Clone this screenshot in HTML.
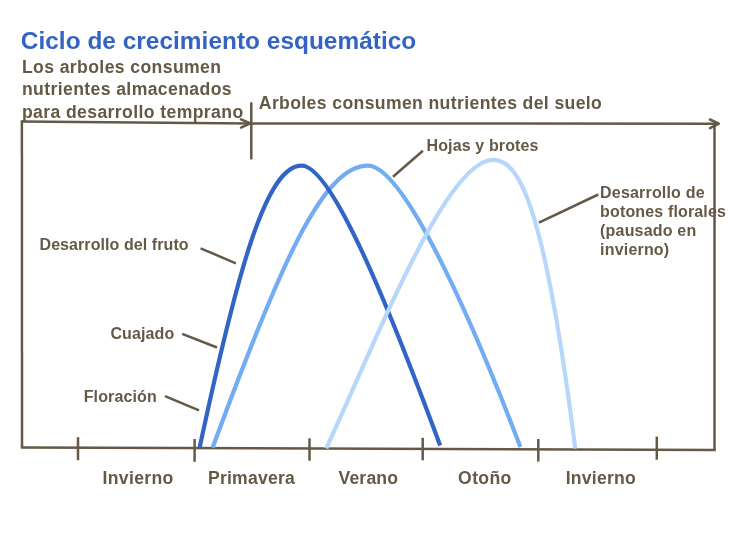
<!DOCTYPE html>
<html><head><meta charset="utf-8">
<style>
html,body{margin:0;padding:0;background:#fff;}
body{width:735px;height:551px;overflow:hidden;position:relative;}
svg{position:absolute;left:0;top:0;will-change:transform;}
text{font-family:"Liberation Sans",sans-serif;font-weight:bold;}
</style></head><body>
<svg width="735" height="551" viewBox="0 0 735 551">
<rect width="735" height="551" fill="#fff"/>
<g fill="#655946">
<text x="20.80" y="48.70" font-size="24.4" letter-spacing="0.032" fill="#3463c2">Ciclo de crecimiento esquemático</text>
<text x="21.90" y="73.00" font-size="17.6" letter-spacing="0.395">Los arboles consumen</text>
<text x="258.80" y="108.80" font-size="17.6" letter-spacing="0.378">Arboles consumen nutrientes del suelo</text>
<text x="426.50" y="150.60" font-size="16" letter-spacing="0.131">Hojas y brotes</text>
<text x="600.10" y="197.90" font-size="16" letter-spacing="0.183">Desarrollo de</text>
<text x="600.10" y="216.60" font-size="16" letter-spacing="0.147">botones florales</text>
<text x="39.50" y="249.80" font-size="16" letter-spacing="0.079">Desarrollo del fruto</text>
<text x="110.40" y="338.90" font-size="16" letter-spacing="0.117">Cuajado</text>
<text x="83.70" y="402.30" font-size="16" letter-spacing="0.125">Floración</text>
<text x="102.60" y="483.90" font-size="17.6" letter-spacing="0.314">Invierno</text>
<text x="208.00" y="484.20" font-size="17.6" letter-spacing="0.212">Primavera</text>
<text x="338.50" y="484.20" font-size="17.6" letter-spacing="0.160">Verano</text>
<text x="458.10" y="484.20" font-size="17.6" letter-spacing="0.350">Otoño</text>
<text x="565.70" y="483.50" font-size="17.6" letter-spacing="0.243">Invierno</text>
<text x="21.90" y="95.00" font-size="17.6" letter-spacing="0.395">nutrientes almacenados</text>
<text x="21.90" y="117.80" font-size="17.6" letter-spacing="0.395">para desarrollo temprano</text>
<text x="600.10" y="235.50" font-size="16" letter-spacing="0.183">(pausado en</text>
<text x="600.10" y="254.70" font-size="16" letter-spacing="0.183">invierno)</text>
</g>
<g stroke="#655946" stroke-width="2.5" fill="none" stroke-linecap="butt">
<line x1="21.9" y1="121.5" x2="250" y2="123.4"/>
<polyline points="241,119.4 250.5,123.4 241,127.6" stroke-linejoin="round" stroke-linecap="round"/>
<line x1="251" y1="123.5" x2="718.5" y2="123.7"/>
<polyline points="710,119.5 718.8,123.7 710,128.1" stroke-linejoin="round" stroke-linecap="round"/>
<line x1="21.9" y1="120.3" x2="22" y2="447"/>
<line x1="714.5" y1="125" x2="714.5" y2="450.2"/>
<polyline points="20.8,447.4 714.5,450.1 714.5,449"/>
<line x1="251.3" y1="102.3" x2="251.3" y2="159.4"/>
<line x1="78" y1="437.2" x2="78" y2="460.2"/>
<line x1="194.6" y1="439" x2="194.6" y2="461.8"/>
<line x1="309.5" y1="438.3" x2="309.5" y2="460.7"/>
<line x1="422.7" y1="437.8" x2="422.7" y2="460.3"/>
<line x1="538.3" y1="439" x2="538.3" y2="461.6"/>
<line x1="656.8" y1="436.6" x2="656.8" y2="459.7"/>
<line x1="393" y1="176.8" x2="422.9" y2="150.7"/>
<line x1="538.9" y1="222.6" x2="598.3" y2="194.5"/>
<line x1="200.6" y1="248.3" x2="235.9" y2="263.3"/>
<line x1="182.2" y1="333.8" x2="217" y2="347.5"/>
<line x1="165" y1="396.2" x2="199" y2="410.4"/>
</g>
<g fill="none" stroke-width="4.2" stroke-linecap="butt">
<path d="M212.58,447.80 C278.61,268.34 322.20,165.70 367.80,165.70 C400.56,165.70 461.93,293.41 520.36,447.00" stroke="#72acf2"/>
<path d="M199.64,447.50 C238.13,267.93 266.34,165.60 301.60,165.60 C332.11,165.60 389.64,309.12 440.15,445.50" stroke="#3164c4"/>
<path d="M326.31,448.30 C377.21,338.48 446.17,159.90 493.20,159.90 C517.61,159.90 543.58,197.55 575.25,448.50" stroke="#b6d7f9"/>
</g>
</svg>
</body></html>
